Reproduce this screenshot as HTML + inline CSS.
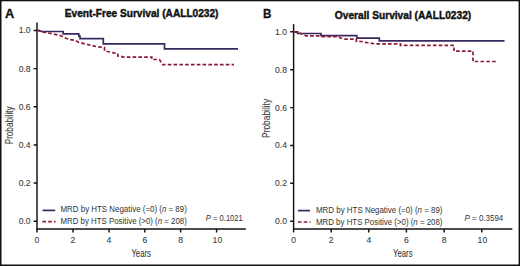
<!DOCTYPE html>
<html><head><meta charset="utf-8">
<style>
html,body{margin:0;padding:0;background:#fff;}
body{width:520px;height:266px;overflow:hidden;}
svg{display:block;}
text{font-family:"Liberation Sans",sans-serif;}
.t{font-size:8.6px;fill:#404040;stroke:#404040;stroke-width:0.1px;}
.ttl{font-size:10px;font-weight:bold;fill:#111;stroke:#111;stroke-width:0.4px;}
.lab{font-size:12.8px;font-weight:bold;fill:#111;stroke:#111;stroke-width:0.3px;}
.ax{font-size:10px;fill:#3a3a3a;stroke:#3a3a3a;stroke-width:0.1px;}
.lg{font-size:8.3px;fill:#333;}
</style></head>
<body>
<svg width="520" height="266" viewBox="0 0 520 266">
<rect x="0" y="0" width="520" height="266" fill="#fff"/>
<!-- border -->
<rect x="0" y="0" width="1.5" height="266" fill="#111"/>
<rect x="0" y="0" width="520" height="1.3" fill="#111"/>
<rect x="518.6" y="0" width="1.4" height="266" fill="#111"/>
<rect x="0" y="264.5" width="520" height="1.5" fill="#111"/>

<!-- ===== LEFT PANEL ===== -->
<text class="lab" x="5" y="18">A</text>
<text class="ttl" x="64.8" y="17" textLength="153.7" lengthAdjust="spacingAndGlyphs">Event-Free Survival (AALL0232)</text>
<!-- axes -->
<g stroke="#111" stroke-width="1.45" fill="none">
<path d="M37,22.6 V232.4"/>
<path d="M36.3,229 H245.8"/>
<path d="M33.6,30.5 H37 M33.6,68.6 H37 M33.6,106.8 H37 M33.6,144.9 H37 M33.6,183 H37 M33.6,221.2 H37"/>
<path d="M73,229 V232.4 M109,229 V232.4 M144.8,229 V232.4 M180.6,229 V232.4 M216.6,229 V232.4"/>
</g>
<g class="t" text-anchor="end">
<text x="30.6" y="33.4">1.0</text>
<text x="30.6" y="71.6">0.8</text>
<text x="30.6" y="109.7">0.6</text>
<text x="30.6" y="147.8">0.4</text>
<text x="30.6" y="185.9">0.2</text>
<text x="30.6" y="224.1">0.0</text>
</g>
<g class="t" text-anchor="middle">
<text x="37" y="242.9">0</text>
<text x="73" y="242.9">2</text>
<text x="109" y="242.9">4</text>
<text x="144.8" y="242.9">6</text>
<text x="180.6" y="242.9">8</text>
<text x="217.4" y="242.9">10</text>
</g>
<text class="ax" x="131.4" y="256.6" textLength="19.6" lengthAdjust="spacingAndGlyphs">Years</text>
<text class="ax" transform="translate(12.8,144.3) rotate(-90)" textLength="38" lengthAdjust="spacingAndGlyphs">Probability</text>
<!-- curves -->
<path d="M37,30.3 L39,30.6 L42,31.5 H63.1 V33.9 H78.8 V36.2 H80 V38.7 H103.3 V43.9 H164.5 V48.8 H238" fill="none" stroke="#3a2860" stroke-width="1.7"/>
<path d="M37,30.3 L39.6,30.6 L42.7,32 L47.3,32.8 L52.3,33.7 L57.3,34.8 L61.5,36 L65.8,38.3 L70.4,39.7 L75,40.3 L78.5,42.2 L83,43.4 L87.5,44.5 L92,45.5 L97,46.8 L101,47.2 L104.5,47.6 V50.8 L110,52 L113.5,52.9 L117.8,53.5 V56 L121.5,56.4 L123,57.1 H151.8 V59.5 H159.5 L162.5,64.7 H234" fill="none" stroke="#8c1a37" stroke-width="1.7" stroke-dasharray="3.6 2.2"/>
<!-- legend -->
<path d="M42.6,210.4 H55.2" stroke="#3a2860" stroke-width="1.7"/>
<path d="M42.4,221.6 H55.6" stroke="#8c1a37" stroke-width="1.7" stroke-dasharray="3.6 2.2"/>
<text class="lg" x="60.5" y="212" textLength="126.3" lengthAdjust="spacingAndGlyphs">MRD by HTS Negative (=0) (<tspan font-style="italic">n</tspan> = 89)</text>
<text class="lg" x="60.5" y="224" textLength="126.3" lengthAdjust="spacingAndGlyphs">MRD by HTS Positive (&gt;0) (<tspan font-style="italic">n</tspan> = 208)</text>
<text class="lg" x="205.8" y="221" textLength="37" lengthAdjust="spacingAndGlyphs"><tspan font-style="italic">P</tspan> = 0.1021</text>

<!-- ===== RIGHT PANEL ===== -->
<text class="lab" x="263.1" y="18" textLength="8.4" lengthAdjust="spacingAndGlyphs">B</text>
<text class="ttl" x="334.8" y="19" textLength="136.4" lengthAdjust="spacingAndGlyphs">Overall Survival (AALL0232)</text>
<g stroke="#111" stroke-width="1.45" fill="none">
<path d="M293.6,24.1 V232.4"/>
<path d="M292.9,229 H512.3"/>
<path d="M290.2,31.8 H293.6 M290.2,69.7 H293.6 M290.2,107.6 H293.6 M290.2,145.5 H293.6 M290.2,183.3 H293.6 M290.2,221.2 H293.6"/>
<path d="M331.2,229 V232.4 M368.8,229 V232.4 M406.4,229 V232.4 M444.2,229 V232.4 M481.8,229 V232.4"/>
</g>
<g class="t" text-anchor="end">
<text x="287" y="34.7">1.0</text>
<text x="287" y="72.6">0.8</text>
<text x="287" y="110.5">0.6</text>
<text x="287" y="148.4">0.4</text>
<text x="287" y="186.2">0.2</text>
<text x="287" y="224.1">0.0</text>
</g>
<g class="t" text-anchor="middle">
<text x="293.6" y="242.9">0</text>
<text x="331.2" y="242.9">2</text>
<text x="368.8" y="242.9">4</text>
<text x="406.4" y="242.9">6</text>
<text x="444.2" y="242.9">8</text>
<text x="482.4" y="242.9">10</text>
</g>
<text class="ax" x="393" y="256.6" textLength="19.6" lengthAdjust="spacingAndGlyphs">Years</text>
<text class="ax" transform="translate(269.6,137.9) rotate(-90)" textLength="39" lengthAdjust="spacingAndGlyphs">Probability</text>
<path d="M293.6,31.8 H297.6 V33.5 H321 V35.7 H356.8 V38.1 H379.3 V40.9 H504.5" fill="none" stroke="#3a2860" stroke-width="1.7"/>
<path d="M293.6,31.8 H297 L299,33 L303,34.3 L306,35.8 H320 L322,36.6 H338 L340,37.7 L344,39.1 H356.4 V41.5 H362 L365,42.3 L369.5,42.9 L374.5,43.8 H400.4 V45.3 H454 V51.1 H473 V61.5 H497.5" fill="none" stroke="#8c1a37" stroke-width="1.7" stroke-dasharray="3.6 2.2"/>
<path d="M297.9,210.6 H310.1" stroke="#3a2860" stroke-width="1.7"/>
<path d="M297.9,222 H310.6" stroke="#8c1a37" stroke-width="1.7" stroke-dasharray="3.6 2.2"/>
<text class="lg" x="316" y="213" textLength="126.5" lengthAdjust="spacingAndGlyphs">MRD by HTS Negative (=0) (<tspan font-style="italic">n</tspan> = 89)</text>
<text class="lg" x="316" y="225" textLength="126.5" lengthAdjust="spacingAndGlyphs">MRD by HTS Positive (&gt;0) (<tspan font-style="italic">n</tspan> = 208)</text>
<text class="lg" x="464.5" y="221" textLength="38.8" lengthAdjust="spacingAndGlyphs"><tspan font-style="italic">P</tspan> = 0.3594</text>
</svg>
</body></html>
